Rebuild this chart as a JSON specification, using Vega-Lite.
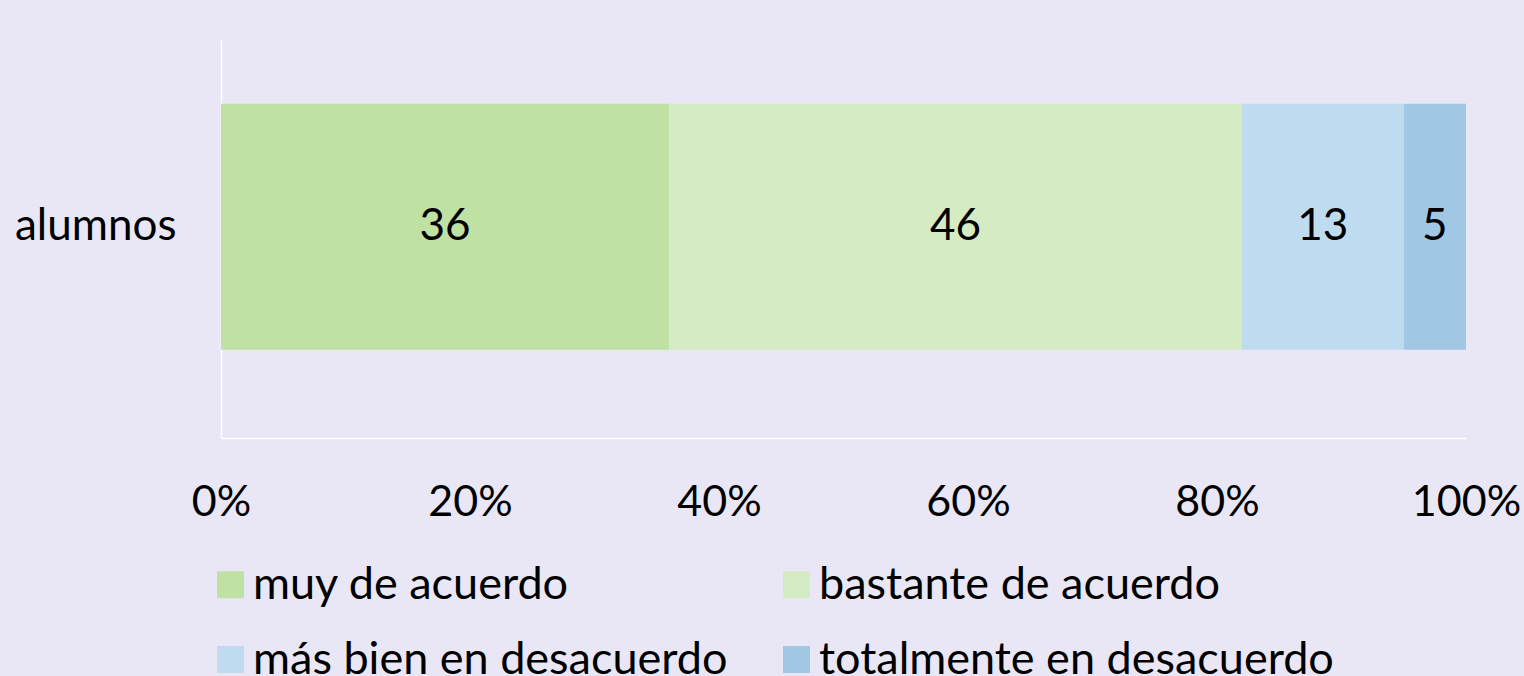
{
  "$schema": "https://vega.github.io/schema/vega-lite/v6.json",
  "width": 1245,
  "height": 398,
  "autosize": {"type": "none"},
  "padding": {"left": 221, "top": 40, "right": 58, "bottom": 238},
  "background": "#E9E7F5",
  "config": {"view": {"stroke": null}, "font": "Lato"},
  "data": {
    "values": [
      {"grupo": "alumnos", "respuesta": "muy de acuerdo", "orden": 1, "valor": 36},
      {"grupo": "alumnos", "respuesta": "bastante de acuerdo", "orden": 2, "valor": 46},
      {"grupo": "alumnos", "respuesta": "más bien en desacuerdo", "orden": 3, "valor": 13},
      {"grupo": "alumnos", "respuesta": "totalmente en desacuerdo", "orden": 4, "valor": 5}
    ]
  },
  "transform": [
    {"stack": "valor", "groupby": ["grupo"], "sort": [{"field": "orden"}], "as": ["x0", "x1"]},
    {"calculate": "(datum.x0 + datum.x1) / 2", "as": "xm"}
  ],
  "encoding": {
    "y": {
      "field": "grupo",
      "type": "nominal",
      "title": null,
      "scale": {"paddingInner": 0, "paddingOuter": 0.309, "align": 0.42},
      "axis": {
        "domainColor": "#FFFFFF",
        "domainWidth": 1.5,
        "ticks": false,
        "tickSize": 0,
        "labelFontSize": 44,
        "labelColor": "#000000",
        "labelPadding": 45,
        "labelLimit": 1000
      }
    }
  },
  "layer": [
    {
      "mark": {"type": "bar"},
      "encoding": {
        "x": {
          "field": "x0",
          "type": "quantitative",
          "scale": {"domain": [0, 100], "nice": false},
          "title": null,
          "axis": {
            "values": [0, 20, 40, 60, 80, 100],
            "labelExpr": "datum.value + '%'",
            "grid": false,
            "ticks": false,
            "tickSize": 0,
            "domainColor": "#FFFFFF",
            "domainWidth": 1.5,
            "labelFontSize": 43,
            "labelColor": "#000000",
            "labelPadding": 43,
            "labelFlush": false,
            "labelOverlap": false
          }
        },
        "x2": {"field": "x1"},
        "color": {
          "field": "respuesta",
          "type": "nominal",
          "scale": {
            "domain": ["muy de acuerdo", "bastante de acuerdo", "más bien en desacuerdo", "totalmente en desacuerdo"],
            "range": ["#C0E1A4", "#D5EBC3", "#BFDBEF", "#A0C7E4"]
          },
          "legend": {
            "orient": "none",
            "direction": "horizontal",
            "legendX": -13,
            "legendY": 522,
            "columns": 2,
            "title": null,
            "symbolType": "square",
            "symbolSize": 729,
            "symbolStrokeWidth": 0,
            "labelFontSize": 45,
            "labelColor": "#000000",
            "labelOffset": 0,
            "columnPadding": 46,
            "rowPadding": 29,
            "labelLimit": 1000
          }
        }
      }
    },
    {
      "mark": {"type": "text", "fontSize": 44, "color": "#000000"},
      "encoding": {
        "x": {"field": "xm", "type": "quantitative"},
        "text": {"field": "valor", "type": "quantitative"}
      }
    }
  ]
}
